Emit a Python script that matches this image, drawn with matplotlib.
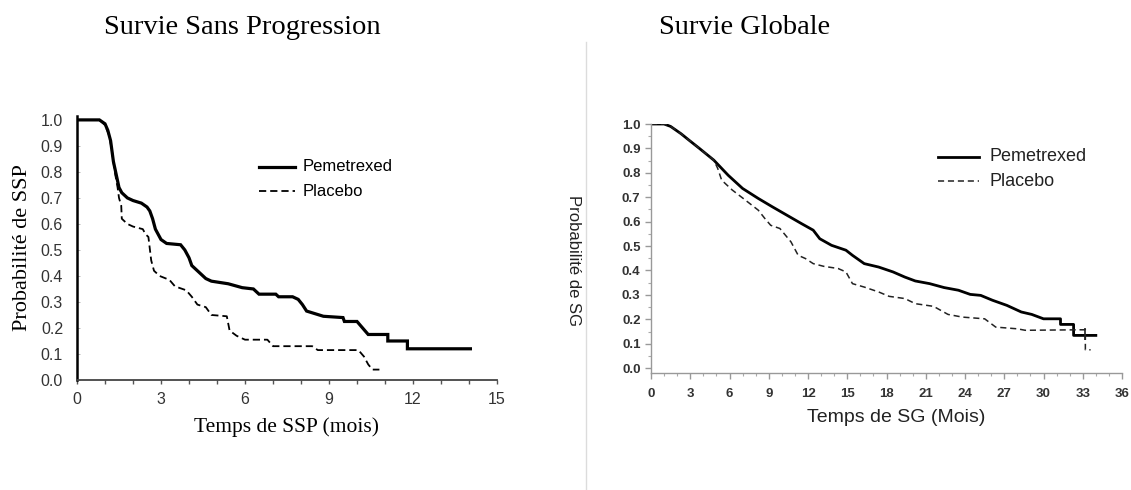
import matplotlib
matplotlib.use("Agg")
import matplotlib.pyplot as plt
from matplotlib.ticker import MultipleLocator, FixedLocator

SERIF = "Liberation Serif"
SANS = "Liberation Sans"

# Survie sans progression (mois, probabilité)
ssp_pem_t = [0, 0.8, 1.0, 1.1, 1.2, 1.25, 1.3, 1.4, 1.5, 1.6, 1.8, 2.0, 2.3, 2.5, 2.6,
             2.7, 2.8, 2.9, 3.0, 3.2, 3.7, 3.85, 4.0, 4.1, 4.3, 4.6, 4.8, 5.4, 5.9, 6.3,
             6.5, 7.1, 7.2, 7.7, 7.9, 8.05, 8.2, 8.5, 8.8, 9.5, 9.55, 10.0, 10.2, 10.4,
             11.1, 11.1, 11.8, 11.8, 14.05]
ssp_pem_s = [1.0, 1.0, 0.985, 0.96, 0.92, 0.88, 0.84, 0.79, 0.74, 0.72, 0.70, 0.69, 0.68,
             0.665, 0.65, 0.62, 0.58, 0.56, 0.54, 0.525, 0.52, 0.50, 0.47, 0.44, 0.42,
             0.39, 0.38, 0.37, 0.355, 0.35, 0.33, 0.33, 0.32, 0.32, 0.31, 0.29, 0.265,
             0.255, 0.245, 0.24, 0.225, 0.225, 0.20, 0.175, 0.175, 0.15, 0.15, 0.12, 0.12]
ssp_pla_t = [0, 0.8, 1.0, 1.15, 1.25, 1.35, 1.45, 1.5, 1.58, 1.6, 1.8, 2.0, 2.35, 2.45,
             2.55, 2.65, 2.75, 2.95, 3.3, 3.5, 3.9, 4.1, 4.3, 4.6, 4.8, 5.35, 5.45, 5.7,
             6.0, 6.8, 7.0, 8.4, 8.6, 10.05, 10.25, 10.4, 10.55, 10.8]
ssp_pla_s = [1.0, 1.0, 0.98, 0.94, 0.88, 0.80, 0.74, 0.70, 0.67, 0.62, 0.60, 0.59, 0.58,
             0.56, 0.55, 0.46, 0.42, 0.40, 0.385, 0.36, 0.345, 0.32, 0.29, 0.28, 0.25,
             0.245, 0.19, 0.17, 0.155, 0.155, 0.13, 0.13, 0.115, 0.115, 0.09, 0.06, 0.04,
             0.04]

# Survie globale (mois, probabilité)
sg_pem_t = [0, 1.0, 1.5, 2.3, 2.9, 3.7, 4.8, 5.9, 7.0, 8.2, 9.3, 10.4, 11.5, 12.4, 12.9,
            13.8, 14.9, 15.4, 16.3, 17.4, 18.5, 19.4, 20.2, 21.3, 22.4, 23.5, 24.4, 25.2,
            26.1, 27.2, 28.3, 29.1, 30.0, 31.3, 31.3, 32.3, 32.3, 34.0]
sg_pem_s = [1.0, 1.0, 0.99, 0.96, 0.934, 0.90, 0.852, 0.79, 0.736, 0.695, 0.66, 0.626,
            0.592, 0.565, 0.53, 0.503, 0.483, 0.462, 0.428, 0.414, 0.394, 0.373, 0.357,
            0.346, 0.33, 0.319, 0.302, 0.298, 0.278, 0.257, 0.23, 0.22, 0.202, 0.202,
            0.179, 0.179, 0.134, 0.134]
sg_pla_t = [0, 1.0, 1.5, 2.3, 2.9, 3.7, 4.8, 5.1, 5.4, 6.2, 7.05, 8.2, 8.7, 9.15, 9.85,
            10.7, 11.25, 11.8, 12.4, 13.2, 14.3, 14.9, 15.4, 16.3, 17.4, 18.2, 19.4, 20.2,
            21.6, 22.7, 23.8, 25.5, 26.35, 28.0, 28.6, 32.8, 33.2, 33.2, 33.6]
sg_pla_s = [1.0, 1.0, 0.99, 0.96, 0.934, 0.90, 0.852, 0.818, 0.77, 0.73, 0.695, 0.647,
            0.613, 0.585, 0.572, 0.517, 0.462, 0.449, 0.428, 0.417, 0.408, 0.394, 0.346,
            0.332, 0.312, 0.294, 0.285, 0.264, 0.253, 0.22, 0.209, 0.202, 0.168, 0.161,
            0.155, 0.157, 0.157, 0.075, 0.075]
sg_censor_t = [33.2]
sg_censor_s = [0.14]

labels = ["Pemetrexed", "Placebo"]

fig = plt.figure(figsize=(11.31, 4.90), dpi=100)

# separator between the two panels
fig.add_artist(plt.Line2D([586 / 1131, 586 / 1131], [0, 1 - 42 / 490],
                          transform=fig.transFigure, color="#dcdcdc", lw=1))

fig.text(242 / 1131, 1 - 28 / 490, "Survie Sans Progression", ha="center", va="center",
         family=SERIF, fontsize=20.5)
fig.text(745 / 1131, 1 - 28 / 490, "Survie Globale", ha="center", va="center",
         family=SERIF, fontsize=20.5)

# ---- left panel
ax1 = fig.add_axes([77 / 1131, 1 - 380 / 490, 420 / 1131, 264 / 490])
ax1.plot(ssp_pem_t, ssp_pem_s, color="black", lw=2.3, solid_joinstyle="miter")
ax1.plot(ssp_pla_t, ssp_pla_s, color="black", lw=1.3, ls=(0, (4, 2.2)))
ax1.set_xlim(0, 15)
ax1.set_ylim(0, 1.015)
ax1.xaxis.set_major_locator(MultipleLocator(3))
ax1.xaxis.set_minor_locator(MultipleLocator(1))
ax1.yaxis.set_major_locator(FixedLocator([i / 10 for i in range(11)]))
ax1.set_yticklabels([f"{i / 10:.1f}" for i in range(11)])
for s in ("top", "right"):
    ax1.spines[s].set_visible(False)
ax1.spines["left"].set_linewidth(1.8)
ax1.spines["left"].set_color("black")
ax1.spines["bottom"].set_linewidth(1.3)
ax1.spines["bottom"].set_color("#444444")
ax1.tick_params(axis="x", which="both", direction="out", length=3, width=1,
                color="#555555", labelsize=11.5, labelcolor="#333333", pad=6)
ax1.tick_params(axis="y", direction="in", length=2, width=0.6, color="#aaaaaa",
                labelsize=11.5, labelcolor="#333333", pad=10)
for lab in ax1.get_xticklabels() + ax1.get_yticklabels():
    lab.set_family(SANS)
ax1.set_xlabel("Temps de SSP (mois)", family=SERIF, fontsize=15.5, labelpad=7)
ax1.set_ylabel("Probabilité de SSP", family=SERIF, fontsize=16, labelpad=6)

# legend, drawn in data coordinates
ax1.plot([6.5, 7.8], [0.82, 0.82], color="black", lw=2.3)
ax1.plot([6.5, 7.8], [0.725, 0.725], color="black", lw=1.3, ls=(0, (4, 2.2)))
ax1.text(8.05, 0.82, labels[0], family=SANS, fontsize=12, va="center")
ax1.text(8.05, 0.725, labels[1], family=SANS, fontsize=12, va="center")

# ---- right panel
ax2 = fig.add_axes([651 / 1131, 1 - 373 / 490, 471 / 1131, 249 / 490])
ax2.plot(sg_pem_t, sg_pem_s, color="black", lw=2.0)
ax2.plot(sg_pla_t, sg_pla_s, color="#222222", lw=1.1, ls=(0, (4, 2.5)))
ax2.plot(sg_censor_t, sg_censor_s, ls="none", marker="|", ms=9, mew=1.2, color="#222222")
ax2.set_xlim(0, 36)
ax2.set_ylim(-0.02, 1.0)
ax2.xaxis.set_major_locator(MultipleLocator(3))
ax2.xaxis.set_minor_locator(MultipleLocator(1))
ax2.yaxis.set_major_locator(FixedLocator([i / 10 for i in range(11)]))
ax2.yaxis.set_minor_locator(FixedLocator([i / 20 for i in range(1, 20, 2)]))
ax2.set_yticklabels([f"{i / 10:.1f}" for i in range(11)])
for s in ("top", "right"):
    ax2.spines[s].set_visible(False)
for s in ("left", "bottom"):
    ax2.spines[s].set_color("#999999")
    ax2.spines[s].set_linewidth(1.0)
ax2.tick_params(which="major", direction="out", length=4, width=1, color="#999999",
                labelsize=9.5, labelcolor="#333333")
ax2.tick_params(which="minor", direction="out", length=2.5, width=0.8, color="#aaaaaa")
ax2.tick_params(axis="x", pad=7)
for lab in ax2.get_xticklabels() + ax2.get_yticklabels():
    lab.set_family(SANS)
    lab.set_fontweight("bold")
ax2.set_xlabel("Temps de SG (Mois)", family=SANS, fontsize=14, color="#222222")
ax2.xaxis.set_label_coords(0.52, -0.145, transform=ax2.transAxes)
ax2.xaxis.label.set_va("top")
ax2.set_ylabel("Probabilité de SG", family=SANS, fontsize=12, rotation=270,
               color="#222222", va="center")
ax2.yaxis.set_label_coords(-0.165, 0.45)

ax2.plot([21.9, 25.1], [0.866, 0.866], color="black", lw=2.0)
ax2.plot([21.9, 25.1], [0.765, 0.765], color="#222222", lw=1.1, ls=(0, (4, 2.5)))
ax2.text(25.9, 0.866, labels[0], family=SANS, fontsize=13, va="center", color="#222222")
ax2.text(25.9, 0.765, labels[1], family=SANS, fontsize=13, va="center", color="#222222")

fig.savefig("out.png", dpi=100)
